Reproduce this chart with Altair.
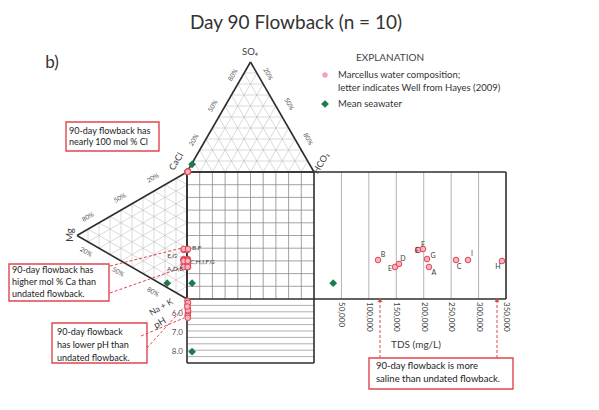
import altair as alt
import pandas as pd

# ---------------- data ----------------
wells    = ["B", "E", "D", "F", "E", "G", "A", "C", "I", "H"]
cl_pct   = [99.5, 99.0, 99.2, 99.6, 99.0, 99.3, 99.4, 99.1, 99.7, 99.3]
so4_pct  = [0.2, 0.3, 0.2, 0.1, 0.4, 0.2, 0.2, 0.3, 0.1, 0.2]
hco3_pct = [0.3, 0.7, 0.6, 0.3, 0.6, 0.5, 0.4, 0.6, 0.2, 0.5]
ca_pct   = [29.2, 23.7, 26.1, 37.1, 37.9, 30.0, 23.7, 29.2, 29.2, 28.4]
mg_pct   = [3.0, 3.0, 3.0, 3.0, 3.0, 3.0, 3.0, 3.0, 3.0, 3.0]
nak_pct  = [67.8, 73.3, 70.9, 59.9, 59.1, 67.0, 73.3, 67.8, 67.8, 68.6]
ph_vals  = [5.5, 5.9, 6.0, 5.3, 5.4, 5.7, 6.1, 5.8, 5.6, 6.2]
tds_vals = [116700, 147700, 154900, 189600, 198700, 206000, 209600, 258900, 280700, 342700]

sea_cl, sea_so4, sea_hco3 = 92.5, 7.0, 0.5
sea_ca, sea_mg, sea_nak = 3.5, 18.0, 78.5
sea_ph, sea_tds = 8.0, 35000

tds_ticks = [50000, 100000, 150000, 200000, 250000, 300000, 350000]
ph_ticks = [6.0, 7.0, 8.0]
edge_pct_labels = ["20%", "50%", "80%"]

# ---------------- layout ----------------
W, H = 583, 394
OFF = 8
X0, Y0, S = 179.0, 164.0, 127.0
TH = S * 0.866
TW = 192.0
PH_H = 64.0
PH_TOP, PH_BOT = 5.2, 8.6
TDS_MAX = 350000.0
label_dx = [5, -5, 4, 5, -6, 6, 5, 3, 4, -4]
label_dy = [-5, 2, -5, -5, 2, -3, 6, 7, -6, 6]

RED = "#e2454f"
PINK_FILL = "#f7b3c2"
GREEN = "#1d7a4c"
FRAME = "#2e2e2e"
FONT = "Lato"


def P(x, y):
    return x - OFF, y - OFF


A_CL, A_HCO3, A_SO4 = (X0, Y0), (X0 + S, Y0), (X0 + S / 2, Y0 - TH)
C_CA, C_NAK, C_MG = (X0, Y0), (X0, Y0 + S), (X0 - TH, Y0 + S / 2)


def bary(a, b, c, wa, wb, wc):
    t = wa + wb + wc
    return ((a[0] * wa + b[0] * wb + c[0] * wc) / t,
            (a[1] * wa + b[1] * wb + c[1] * wc) / t)


def sq_x(so4, hco3):
    return X0 + S * (hco3 + so4 / 2) / 100.0


def sq_y(mg, nak):
    return Y0 + S * (nak + mg / 2) / 100.0


def tds_x(t):
    return X0 + S + TW * t / TDS_MAX


def ph_y(p):
    return Y0 + S + PH_H * (p - PH_TOP) / (PH_BOT - PH_TOP)


# ---------------- sample positions ----------------
rows = []
for i in range(len(wells)):
    ax, ay = bary(A_CL, A_HCO3, A_SO4, cl_pct[i], hco3_pct[i], so4_pct[i])
    cx, cy = bary(C_CA, C_NAK, C_MG, ca_pct[i], nak_pct[i], mg_pct[i])
    sx, sy = sq_x(so4_pct[i], hco3_pct[i]), sq_y(mg_pct[i], nak_pct[i])
    rows += [dict(x=ax, y=ay), dict(x=cx, y=cy), dict(x=sx, y=sy),
             dict(x=sx, y=ph_y(ph_vals[i])), dict(x=tds_x(tds_vals[i]), y=sy)]
red_df = pd.DataFrame(rows)

sax, say = bary(A_CL, A_HCO3, A_SO4, sea_cl, sea_hco3, sea_so4)
scx, scy = bary(C_CA, C_NAK, C_MG, sea_ca, sea_nak, sea_mg)
ssx, ssy = sq_x(sea_so4, sea_hco3), sq_y(sea_mg, sea_nak)
sea_df = pd.DataFrame([dict(x=sax, y=say), dict(x=scx, y=scy), dict(x=ssx, y=ssy),
                       dict(x=ssx, y=ph_y(sea_ph)), dict(x=tds_x(sea_tds), y=ssy)])

well_lbl = pd.DataFrame([dict(x=tds_x(tds_vals[i]) + label_dx[i],
                              y=sq_y(mg_pct[i], nak_pct[i]) + label_dy[i],
                              t=wells[i]) for i in range(len(wells))])

# ---------------- segments ----------------
tri_grid, sq_grid, tds_grid, ph_grid, frame = [], [], [], [], []


def seg(lst, p, q):
    lst.append(dict(x=p[0], y=p[1], x2=q[0], y2=q[1]))


for tri in [(A_CL, A_HCO3, A_SO4), (C_CA, C_NAK, C_MG)]:
    a, b, c = tri
    for k in range(1, 10):
        f = k / 10.0
        for (u, v, w) in [(a, b, c), (b, c, a), (c, a, b)]:
            p = (u[0] * f + v[0] * (1 - f), u[1] * f + v[1] * (1 - f))
            q = (u[0] * f + w[0] * (1 - f), u[1] * f + w[1] * (1 - f))
            seg(tri_grid, p, q)
    seg(frame, a, b); seg(frame, b, c); seg(frame, c, a)

for k in range(1, 10):
    f = k / 10.0
    seg(sq_grid, (X0 + S * f, Y0), (X0 + S * f, Y0 + S))
    seg(sq_grid, (X0, Y0 + S * f), (X0 + S, Y0 + S * f))
    seg(ph_grid, (X0, Y0 + S + PH_H * f), (X0 + S, Y0 + S + PH_H * f))
for t in tds_ticks[:-1]:
    seg(tds_grid, (tds_x(t), Y0), (tds_x(t), Y0 + S))

for p, q in [((X0, Y0), (X0 + S + TW, Y0)), ((X0, Y0 + S), (X0 + S + TW, Y0 + S)),
             ((X0 + S, Y0), (X0 + S, Y0 + S + PH_H)), ((X0 + S + TW, Y0), (X0 + S + TW, Y0 + S)),
             ((X0, Y0), (X0, Y0 + S + PH_H)), ((X0, Y0 + S + PH_H), (X0 + S, Y0 + S + PH_H))]:
    seg(frame, p, q)

xs = alt.Scale(domain=[0, W], nice=False, zero=False)
ys = alt.Scale(domain=[H, 0], nice=False, zero=False)


def X(f="x"):
    return alt.X(f + ":Q", scale=xs, axis=None)


def Y(f="y"):
    return alt.Y(f + ":Q", scale=ys, axis=None)


def rules(lst, color, width, dash=None):
    kw = dict(color=color, strokeWidth=width)
    if dash:
        kw["strokeDash"] = dash
    return alt.Chart(pd.DataFrame(lst)).mark_rule(**kw).encode(
        x=X(), y=Y(), x2="x2:Q", y2="y2:Q")


def texts(items, align="center", baseline="middle", weight="normal", color="#333333", font=FONT):
    df = pd.DataFrame(items)
    if "angle" not in df:
        df["angle"] = 0
    return alt.Chart(df).mark_text(align=align, baseline=baseline, font=font,
                                   fontWeight=weight, color=color).encode(
        x=X(), y=Y(), text="t:N",
        size=alt.Size("s:Q", scale=None, legend=None),
        angle=alt.Angle("angle:Q", scale=None))


def T(xp, yp, t, s, angle=0):
    x, y = P(xp, yp)
    return dict(x=x, y=y, t=t, s=s, angle=angle)


layers = []
layers.append(rules(tri_grid, "#b4b4b4", 0.5))
layers.append(rules(sq_grid, "#8c8c8c", 0.8))
layers.append(rules(ph_grid, "#9a9a9a", 0.8))
layers.append(rules(tds_grid, "#a0a0a0", 0.8))
layers.append(rules(frame, FRAME, 1.6))

# annotation boxes
boxes = []
for (x1, y1, x2, y2) in [(66, 122, 159, 151), (9, 264, 109, 301), (52, 323, 147, 363), (369, 358, 513, 389)]:
    a = P(x1, y1); b = P(x2, y2)
    boxes.append(dict(x=a[0], y=a[1], x2=b[0], y2=b[1]))
layers.append(alt.Chart(pd.DataFrame(boxes)).mark_rect(fill="white", stroke=RED, strokeWidth=1.4).encode(
    x=X(), y=Y(), x2="x2:Q", y2="y2:Q"))

# dashed leaders
dash = []
for (x1, y1, x2, y2) in [(110, 266, 186, 247), (110, 293, 181, 268), (147, 348, 186, 305),
                         (141, 336, 184, 318), (380, 358, 380, 300), (497, 358, 497, 300)]:
    a = P(x1, y1); b = P(x2, y2)
    seg(dash, a, b)
layers.append(rules(dash, RED, 1.0, [3, 2]))
arrows = pd.DataFrame([dict(x=P(380, 300)[0], y=P(380, 300)[1]), dict(x=P(497, 300)[0], y=P(497, 300)[1])])
layers.append(alt.Chart(arrows).mark_point(shape="triangle-up", filled=True, color=RED, size=22, opacity=1).encode(x=X(), y=Y()))

# samples
layers.append(alt.Chart(red_df).mark_point(shape="circle", filled=True, fill=PINK_FILL, stroke=RED,
                                           strokeWidth=1, size=32, opacity=1).encode(x=X(), y=Y()))
layers.append(alt.Chart(sea_df).mark_point(shape="diamond", filled=True, color=GREEN, size=60, opacity=1).encode(x=X(), y=Y()))
layers.append(alt.Chart(well_lbl.assign(s=7)).mark_text(font=FONT, color="#3a3a3a").encode(
    x=X(), y=Y(), text="t:N", size=alt.Size("s:Q", scale=None, legend=None)))

# legend
lg = pd.DataFrame([dict(x=P(325, 75)[0], y=P(325, 75)[1])])
layers.append(alt.Chart(lg).mark_circle(color="#f4a3b6", size=30, opacity=1).encode(x=X(), y=Y()))
lg2 = pd.DataFrame([dict(x=P(325, 104)[0], y=P(325, 104)[1])])
layers.append(alt.Chart(lg2).mark_point(shape="diamond", filled=True, color=GREEN, size=60, opacity=1).encode(x=X(), y=Y()))
layers.append(texts([T(338, 75, "Marcellus water composition;", 9.5),
                     T(338, 88, "letter indicates Well from Hayes (2009)", 9.5),
                     T(338, 104, "Mean seawater", 9.5)], align="left"))
layers.append(texts([T(390, 58, "EXPLANATION", 10)], color="#444444"))

# title and panel letter
layers.append(texts([T(296, 23, "Day 90 Flowback  (n = 10)", 19)], color="#333333"))
layers.append(texts([T(52, 63, "b)", 17)], color="#333333"))

# box texts
layers.append(texts([T(69, 131, "90-day flowback has", 9), T(69, 142, "nearly 100 mol % Cl", 9),
                     T(12, 270, "90-day flowback has", 9), T(12, 282, "higher mol % Ca than", 9),
                     T(12, 294, "undated flowback.", 9),
                     T(57, 332, "90-day flowback", 9), T(57, 345, "has lower pH than", 9),
                     T(57, 358, "undated flowback.", 9),
                     T(376, 366, "90-day flowback is more", 9.5), T(376, 379, "saline than undated flowback.", 9.5)],
                    align="left", color="#222222"))

# vertex labels
layers.append(texts([T(250, 52, "SO₄", 9.5), T(321, 163, "HCO₃", 9, 300),
                     T(179, 157, "Cl", 9, 300), T(174, 165, "Ca", 9, 300),
                     T(70, 235, "Mg", 9.5, 270), T(161, 307, "Na + K", 8.5, 330),
                     T(160, 323, "pH", 9.5, 330), T(416, 345, "TDS (mg/L)", 10)], color="#3a3a3a"))

# edge percent labels
pl = []
edge_pos = [([(194, 140), (213, 106), (233, 75)], 300), ([(268, 74), (289, 104), (308, 139)], 60),
            ([(153, 178), (120, 198), (88, 217)], 330), ([(86, 252), (118, 272), (153, 292)], 30)]
for pts, ang in edge_pos:
    for (xp, yp), lab in zip(pts, edge_pct_labels):
        pl.append(T(xp, yp, lab, 6.5, ang))
layers.append(texts(pl, color="#555555"))

# tick labels
tl = [T(tds_x(t) + OFF, 302, f"{t:,}", 8, 90) for t in tds_ticks]
layers.append(texts(tl, align="left", color="#444444"))
pt = [T(183, ph_y(p) + OFF, f"{p:.1f}", 8) for p in ph_ticks]
layers.append(texts(pt, align="right", color="#555555"))

# square-edge sample labels
layers.append(texts([T(192, 248, "B,F", 6.5), T(190, 262, "C,H,I,F,G", 6.5)], align="left", color="#444444"))
layers.append(texts([T(177, 256, "E,G", 6.5), T(183, 269, "A,D,E", 6.5)], align="right", color="#444444"))

chart = alt.layer(*layers).properties(
    width=W, height=H, autosize=alt.AutoSizeParams(type="none"), padding=0, background="white"
).configure_view(stroke=None)

chart.save("out.html", embed_options={"renderer": "svg", "actions": False})
